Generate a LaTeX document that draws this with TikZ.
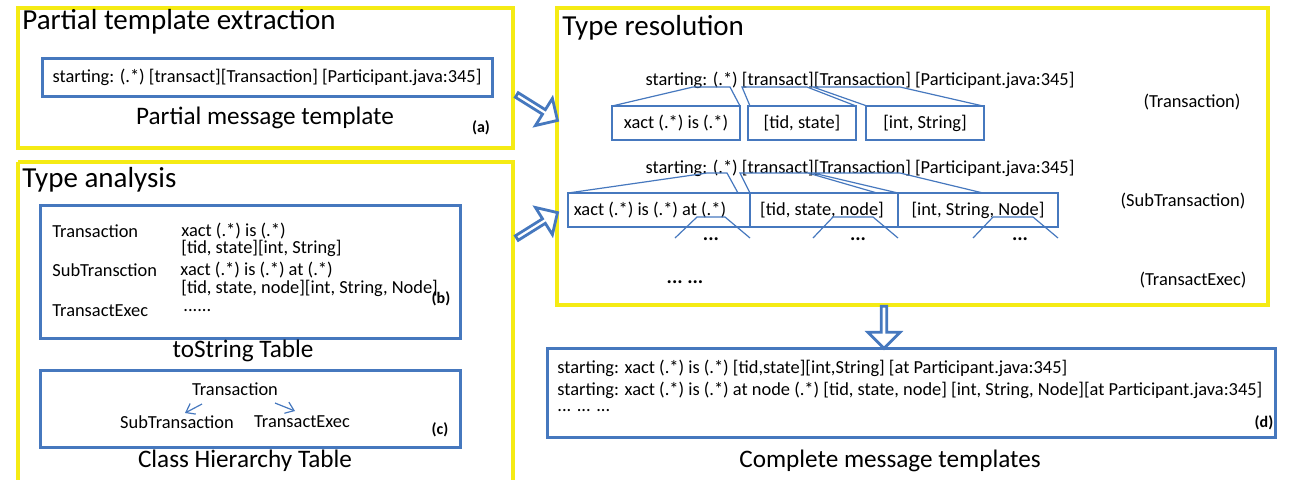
\documentclass[tikz,border=0pt]{standalone}
\usepackage{fontspec}
\setmainfont{Carlito}
\usetikzlibrary{shapes.arrows,arrows.meta}
\definecolor{yel}{RGB}{245,235,20}
\definecolor{blu}{RGB}{70,120,190}
\begin{document}
\begin{tikzpicture}[x=0.5pt,y=-0.5pt,
 ybox/.style={draw=yel,line width=1.8pt},
 bbox/.style={draw=blu,line width=1.5pt},
 thin/.style={draw=blu,line width=0.6pt},
 title/.style={anchor=west,font=\fontsize{14.5}{14.5}\selectfont,inner sep=0},
 captxt/.style={font=\fontsize{12.6}{12.6}\selectfont,inner sep=0},
 sm/.style={font=\fontsize{9.2}{10}\selectfont,inner sep=0},
 tag/.style={font=\bfseries\fontsize{8}{8}\selectfont,inner sep=0},
 dots/.style={font=\bfseries\fontsize{10}{10}\selectfont,inner sep=0},
 harrow/.style={single arrow,draw=blu,line width=1.4pt,fill=white,minimum height=24pt,minimum width=16pt,single arrow head extend=3.5pt,inner sep=0,single arrow tip angle=90}]
\useasboundingbox (0,0) rectangle (1294,479);
% box 1
\draw[ybox] (18,8) rectangle (513,148);
\node[title] (t1) at (22,22) {Partial template extraction};
\draw[bbox] (42,58) rectangle (492,96);
\node[sm] (pa) at (267,77) {starting: (.*) [transact][Transaction] [Participant.java:345]};
\node[captxt] (pmt) at (265,118) {Partial message template};
\node[tag] (ta) at (481,128) {(a)};
% box 2
\draw[ybox] (18,162) -- (18,481) (513,481) -- (513,162) -- (18,162);
\node[title] (t2) at (22,180) {Type analysis};
\draw[bbox] (40,205) rectangle (460,338);
\node[sm,anchor=west] (b1) at (52,231) {Transaction};
\node[sm,anchor=west] (b2) at (181,231) {xact (.*) is (.*)};
\node[sm,anchor=west] (b3) at (181,248) {[tid, state][int, String]};
\node[sm,anchor=west] (b4) at (52,270) {SubTransction};
\node[sm,anchor=west] (b5) at (180,270) {xact (.*) is (.*) at (.*)};
\node[sm,anchor=west] (b6) at (181,288) {[tid, state, node][int, String, Node]};
\node[sm,anchor=west] (b7) at (52,311) {TransactExec};
\node[sm,anchor=west] (b8) at (183,311) {......};
\node[tag] (tb) at (441,299) {(b)};
\node[captxt] (tst) at (243,351) {toString Table};
\draw[bbox] (40,370) rectangle (460,447);
\node[sm] (c1) at (235,389) {Transaction};
\node[sm] (c2) at (177,422) {SubTransaction};
\node[sm] (c3) at (302,422) {TransactExec};
\coordinate (ca1) at (202,404); \coordinate (ca2) at (185,413);
\coordinate (cb1) at (275,403); \coordinate (cb2) at (295,411);
\draw[thin,-{Straight Barb[length=4pt,width=6pt]}] (ca1) -- (ca2);
\draw[thin,-{Straight Barb[length=4pt,width=6pt]}] (cb1) -- (cb2);
\node[tag] (tc) at (440,430) {(c)};
\node[captxt] (cht) at (245,461) {Class Hierarchy Table};
% box 3
\draw[ybox] (557,8) rectangle (1268,305);
\node[title] (t3) at (562,28) {Type resolution};
\node[sm] (r1) at (860,80) {starting: (.*) [transact][Transaction] [Participant.java:345]};
\node[sm] (r2) at (860,168) {starting: (.*) [transact][Transaction] [Participant.java:345]};
\draw[thin] (612,106) rectangle (740,140); \node[sm] (x1) at (676,123) {xact (.*) is (.*)};
\draw[thin] (748,106) rectangle (856,140); \node[sm] (x2) at (802,123) {[tid, state]};
\draw[thin] (866,106) rectangle (984,140); \node[sm] (x3) at (925,123) {[int, String]};
\draw[thin] (612,106) -- (693,87) -- (730,87) -- (740,106);
\draw[thin] (750,106) -- (742,87) -- (807,87) -- (856,106);
\draw[thin] (867,106) -- (813,87) -- (900,87) -- (983,106);
\node[sm] (tr) at (1192,102) {(Transaction)};
\draw[thin] (568,193) rectangle (750,227); \node[sm] (y1) at (650,210) {xact (.*) is (.*) at (.*)};
\draw[thin] (750,193) rectangle (898,227); \node[sm] (y2) at (822,210) {[tid, state, node]};
\draw[thin] (898,193) rectangle (1058,227); \node[sm] (y3) at (978,210) {[int, String, Node]};
\draw[thin] (568,193) -- (707,173) -- (727,173) -- (738,193);
\draw[thin] (750,193) -- (740,173) -- (808,173) -- (877,193);
\draw[thin] (898,193) -- (813,173) -- (900,173) -- (983,193);
\draw[thin] (675,238) -- (697,217) -- (725,217) -- (750,238);
\draw[thin] (813,238) -- (833,217) -- (873,217) -- (898,238);
\draw[thin] (973,238) -- (993,217) -- (1033,217) -- (1058,238);
\node[dots] (d1) at (711,239) {...};
\node[dots] (d2) at (858,239) {...};
\node[dots] (d3) at (1020,239) {...};
\node[dots] (d4) at (685,282) {...\ ...};
\node[sm] (sub) at (1183,201) {(SubTransaction)};
\node[sm] (te) at (1193,280) {(TransactExec)};
% box d
\draw[bbox] (547,348) rectangle (1275,437);
\node[sm,anchor=west] (e1) at (557,368) {starting: xact (.*) is (.*) [tid,state][int,String] [at Participant.java:345]};
\node[sm,anchor=west] (e2) at (557,390) {starting: xact (.*) is (.*) at node (.*) [tid, state, node] [int, String, Node][at Participant.java:345]};
\node[sm,anchor=west] (e3) at (557,411) {... ... ...};
\node[tag] (td) at (1264,423) {(d)};
\node[captxt] (cmt) at (890,461) {Complete message templates};
% hollow arrows
\node[harrow,rotate=-32] (h1) at (536,107) {};
\node[harrow,rotate=32] (h2) at (536,226) {};
\node[harrow,rotate=-90,minimum height=21pt] (h3) at (884,326) {};
\end{tikzpicture}
\end{document}
